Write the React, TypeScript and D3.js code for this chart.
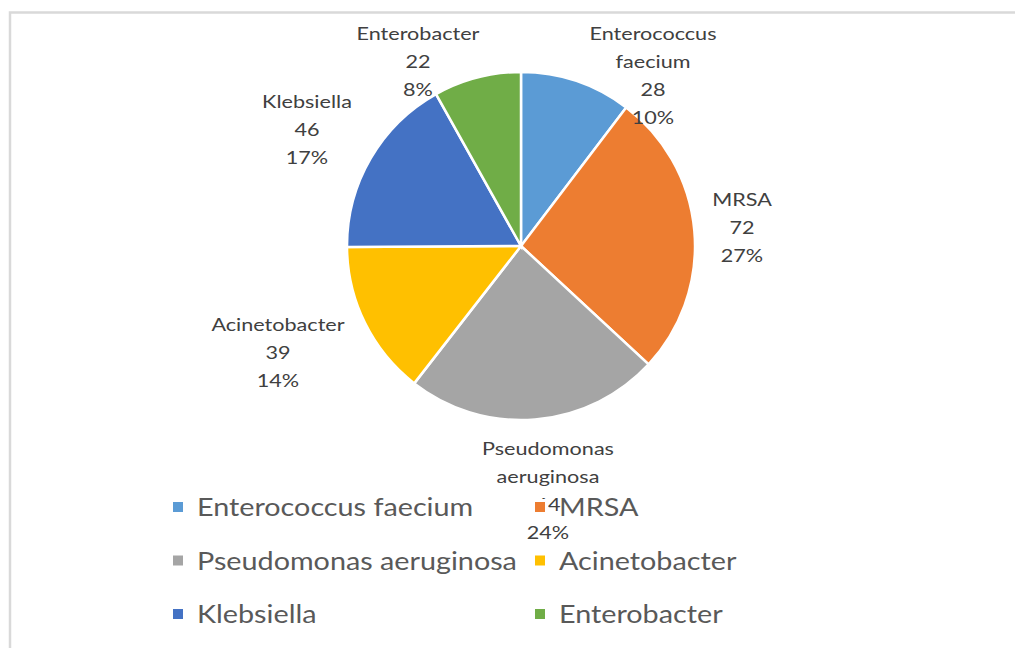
import { useRef, useEffect } from 'react';
import * as d3 from 'd3';

const categories = [
  'Enterococcus faecium',
  'MRSA',
  'Pseudomonas aeruginosa',
  'Acinetobacter',
  'Klebsiella',
  'Enterobacter',
];
const values = [28, 72, 64, 39, 46, 22];
const colors = ['#5B9BD5', '#ED7D31', '#A5A5A5', '#FFC000', '#4472C4', '#70AD47'];
// data label text lines (category name wrapped as in the original)
const labelLines = [
  ['Enterococcus', 'faecium'],
  ['MRSA'],
  ['Pseudomonas', 'aeruginosa'],
  ['Acinetobacter'],
  ['Klebsiella'],
  ['Enterobacter'],
];
// label anchor points (center x, first line y)
const labelPos = [
  [653, 40],
  [742, 206],
  [548, 455],
  [278, 331],
  [307, 108],
  [418, 40],
];

function App() {
  const svgRef = useRef(null);

  useEffect(() => {
    const svg = d3.select(svgRef.current);
    svg.selectAll('*').remove();

    const cx = 521;
    const cy = 246;
    const r = 174;
    const total = d3.sum(values);

    // frame
    svg
      .append('rect')
      .attr('x', 10)
      .attr('y', 12.5)
      .attr('width', 1030)
      .attr('height', 660)
      .attr('fill', 'white')
      .attr('stroke', '#d9d9d9')
      .attr('stroke-width', 2.5);

    const pie = d3.pie<number>().sort(null).value((d) => d);
    const arc = d3.arc<d3.PieArcDatum<number>>().innerRadius(0).outerRadius(r);

    const g = svg.append('g').attr('transform', `translate(${cx},${cy})`);
    g.selectAll('path')
      .data(pie(values))
      .enter()
      .append('path')
      .attr('d', arc)
      .attr('fill', (_, i) => colors[i])
      .attr('stroke', 'white')
      .attr('stroke-width', 2.5);

    // data labels (text a bit wider than the font, as in the original)
    const font = 'Lato, "Open Sans", sans-serif';
    labelLines.forEach((lines, i) => {
      const pct = d3.format('.0%')(values[i] / total);
      const all = [...lines, String(values[i]), pct];
      const t = svg
        .append('g')
        .attr('transform', `translate(${labelPos[i][0]},${labelPos[i][1]}) scale(1.2,1)`)
        .append('text')
        .attr('text-anchor', 'middle')
        .attr('font-family', font)
        .attr('font-size', 18)
        .attr('fill', '#404040');
      all.forEach((s, j) => {
        t.append('tspan').attr('x', 0).attr('y', j * 28).text(s);
      });
    });

    // legend
    const legend = svg.append('g');
    categories.forEach((c, i) => {
      const col = i % 2;
      const row = Math.floor(i / 2);
      const x = col === 0 ? 173 : 535;
      const y = 508 + row * 53.5;
      legend
        .append('rect')
        .attr('x', x - 3)
        .attr('y', y - 9)
        .attr('width', 16)
        .attr('height', 16)
        .attr('fill', 'white');
      legend
        .append('rect')
        .attr('x', x)
        .attr('y', y - 6)
        .attr('width', 10)
        .attr('height', 10)
        .attr('fill', colors[i]);
      legend
        .append('g')
        .attr('transform', `translate(${x + 24},${y + 8}) scale(1.15,1)`)
        .append('text')
        .attr('font-family', font)
        .attr('font-size', 25)
        .attr('fill', '#595959')
        .text(c);
    });

    return () => {
      svg.selectAll('*').remove();
    };
  }, []);

  return (
    <svg
      ref={svgRef}
      width={1015}
      height={648}
      style={{ position: 'absolute', left: 0, top: 0 }}
    />
  );
}

export default App;
